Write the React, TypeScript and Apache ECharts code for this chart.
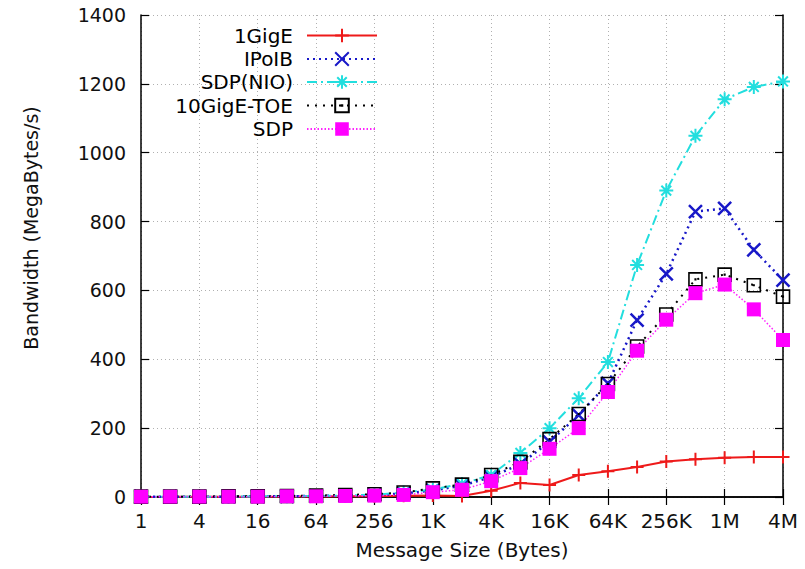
import React, { useEffect, useRef } from "react";
import * as echarts from "echarts";

const sizes = ["1","2","4","8","16","32","64","128","256","512","1K","2K","4K","8K","16K","32K","64K","128K","256K","512K","1M","2M","4M"];
const gigE = [0.3,0.4,0.6,0.8,1,1.2,1.5,2,2.5,3.5,4,3,18,41,35,64,75,87,103,110,114,116,116];
const ipoib = [1,1,1,1,2,2,3,4,6,10,19,33,58,96,160,238,330,514,648,829,838,718,630];
const sdpNio = [1,1,1,1,2,2,3,4,7,13,22,38,64,128,200,287,392,674,890,1049,1155,1191,1207];
const toe = [1,1,1,2,2,3,4,6,8,13,25,36,64,102,168,241,328,437,530,632,646,615,582];
const sdp = [1,1,1,1,1,2,2,3,4,6,14,21,46,84,140,200,305,425,515,592,617,545,456];
const yTicks = { min: 0, max: 1400, interval: 200 };

const FONT = "DejaVu Sans";

export default function App() {
  const ref = useRef<HTMLDivElement>(null);
  useEffect(() => {
    if (!ref.current) return;
    const chart = echarts.init(ref.current, null, { renderer: "svg" });
    const names = ["1GigE", "IPoIB", "SDP(NIO)", "10GigE-TOE", "SDP"];
    const rowY = [34, 57.5, 80.5, 104, 127.5];
    const itemH = 17;
    const legends = names.map((n, i) => ({
      data: [n],
      orient: "vertical",
      align: "right",
      right: 427,
      top: rowY[i] - itemH / 2,
      padding: 0,
      itemWidth: 70,
      itemHeight: itemH,
      selectedMode: false,
      textStyle: { fontFamily: FONT, fontSize: 20, color: "#000", padding: [0, 9, 0, 0] },
    }));
    const option: any = {
      animation: false,
      backgroundColor: "#fff",
      legend: legends,
      grid: { left: 141, right: 22, top: 15, bottom: 72, containLabel: false },
      xAxis: [
        {
          type: "category",
          data: sizes,
          boundaryGap: false,
          axisLine: { lineStyle: { color: "#000", width: 1.5 } },
          axisTick: { inside: true, length: 8, interval: 1, lineStyle: { color: "#000", width: 1.2 } },
          axisLabel: { interval: 1, margin: 14, fontSize: 20, color: "#111", fontFamily: FONT },
          splitLine: { show: true, interval: 1, lineStyle: { color: "#b0b0b0", type: [1, 3], width: 1 } },
          name: "Message Size (Bytes)",
          nameLocation: "middle",
          nameGap: 43,
          nameTextStyle: { fontSize: 20, color: "#111", fontFamily: FONT },
        },
        {
          type: "category",
          data: sizes,
          boundaryGap: false,
          position: "top",
          axisLine: { lineStyle: { color: "#000", width: 1.5 } },
          axisTick: { inside: true, length: 8, interval: 1, lineStyle: { color: "#000", width: 1.2 } },
          axisLabel: { show: false },
          splitLine: { show: false },
        },
      ],
      yAxis: [
        {
          type: "value",
          ...yTicks,
          axisLine: { show: true, lineStyle: { color: "#000", width: 1.5 } },
          axisTick: { show: true, inside: true, length: 8, lineStyle: { color: "#000", width: 1.2 } },
          axisLabel: { margin: 15, fontSize: 19, color: "#111", fontFamily: FONT, formatter: (v: number) => String(v) },
          splitLine: { show: true, lineStyle: { color: "#b0b0b0", type: [1, 3], width: 1 } },
          name: "Bandwidth (MegaBytes/s)",
          nameLocation: "middle",
          nameGap: 101,
          nameRotate: 90,
          nameTextStyle: { fontSize: 19, color: "#111", fontFamily: FONT, padding: [0, 0, 0, 56] },
        },
        {
          type: "value",
          ...yTicks,
          position: "right",
          axisLine: { show: true, lineStyle: { color: "#000", width: 1.5 } },
          axisTick: { show: true, inside: true, length: 8, lineStyle: { color: "#000", width: 1.2 } },
          axisLabel: { show: false },
          splitLine: { show: false },
        },
      ],
      series: [
        {
          name: "1GigE",
          type: "line",
          data: gigE,
          showAllSymbol: true,
          symbol: "path://M0 5 H10 M5 0 V10",
          symbolSize: 13,
          lineStyle: { color: "#ee1a1a", width: 2, type: "solid" },
          itemStyle: { color: "#ee1a1a", borderColor: "#ee1a1a", borderWidth: 2 },
        },
        {
          name: "IPoIB",
          type: "line",
          data: ipoib,
          showAllSymbol: true,
          symbol: "path://M0 0 L10 10 M10 0 L0 10",
          symbolSize: 13,
          lineStyle: { color: "#1818c8", width: 2.5, type: [2, 4] },
          itemStyle: { color: "#1818c8", borderColor: "#1818c8", borderWidth: 2.5 },
        },
        {
          name: "SDP(NIO)",
          type: "line",
          data: sdpNio,
          showAllSymbol: true,
          symbol: "path://M0 5 H10 M5 0 V10 M1.5 1.5 L8.5 8.5 M8.5 1.5 L1.5 8.5",
          symbolSize: 14,
          lineStyle: { color: "#22dede", width: 2, type: [10, 4, 2, 4] },
          itemStyle: { color: "#22dede", borderColor: "#22dede", borderWidth: 2 },
        },
        {
          name: "10GigE-TOE",
          type: "line",
          data: toe,
          showAllSymbol: true,
          symbol: "path://M0 0 H10 V10 H0 Z M4.8 4.8 H5.2 V5.2 H4.8 Z",
          symbolSize: 13,
          lineStyle: { color: "#000", width: 2, type: [2, 6] },
          itemStyle: { color: "rgba(0,0,0,0)", borderColor: "#000", borderWidth: 1.6 },
        },
        {
          name: "SDP",
          type: "line",
          data: sdp,
          showAllSymbol: true,
          symbol: "rect",
          symbolSize: 14,
          lineStyle: { color: "#ff22ff", width: 1.5, type: [1.5, 2] },
          itemStyle: { color: "#ff00ff", borderWidth: 0 },
        },
      ],
    };
    chart.setOption(option);
    return () => chart.dispose();
  }, []);
  return (
    <div
      ref={ref}
      style={{ position: "fixed", left: 0, top: 0, width: 805, height: 569, background: "#fff" }}
    />
  );
}
